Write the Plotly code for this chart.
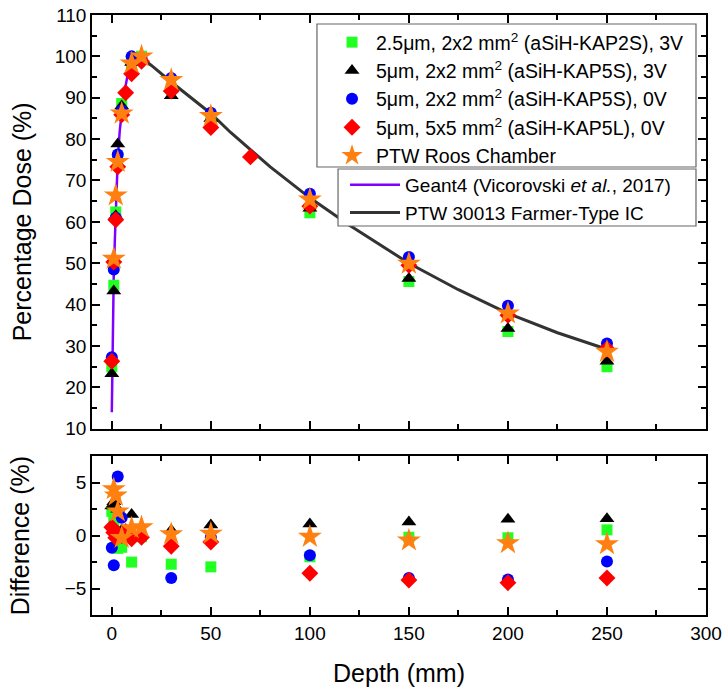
import plotly.graph_objects as go

# ---------------- data ----------------
green_depth = [0, 1, 2, 3, 5, 10, 15, 30, 50, 100, 150, 200, 250]
green_dose = [25.0, 44.7, 62.4, 75.5, 88.6, 98.0, 100.0, 92.3, 85.3, 62.2, 45.6, 33.5, 25.0]
green_diff = [2.3, 1.4, 0.4, -1.2, -1.1, -2.5, -0.1, -2.7, -2.95, -2.0, -0.15, -0.2, 0.55]

black_depth = [0, 1, 2, 3, 5, 10, 15, 30, 50, 100, 150, 200, 250]
black_dose = [23.3, 43.3, 61.5, 78.8, 88.0, 98.5, 99.5, 90.5, 85.0, 63.3, 46.3, 34.2, 26.3]
black_diff = [2.8, 3.2, 0.5, 2.5, 0.5, 2.0, 0.2, 0.5, 1.0, 1.1, 1.3, 1.55, 1.6]

blue_depth = [0, 1, 2, 3, 5, 10, 15, 30, 50, 100, 150, 200, 250]
blue_dose = [27.3, 48.5, 61.0, 76.3, 87.0, 100.0, 99.5, 94.8, 86.4, 66.8, 51.5, 39.7, 30.6]
blue_diff = [-1.15, -2.8, 0.0, 5.6, 1.7, -0.2, 0.0, -4.0, -0.15, -1.85, -4.0, -4.15, -2.45]

red_depth = [0, 1, 2, 3, 5, 7, 10, 15, 30, 50, 70, 100, 150, 200, 250]
red_dose = [26.3, 50.3, 60.5, 73.3, 85.9, 91.2, 95.8, 98.8, 91.6, 82.8, 75.7, 63.8, 49.5, 37.4, 29.3]
red_diff_depth = [0, 1, 2, 3, 5, 7, 10, 15, 30, 50, 100, 150, 200, 250]
red_diff = [0.8, 0.3, -0.2, 0.2, 0.0, 0.4, -0.3, -0.15, -1.0, -0.6, -3.55, -4.2, -4.45, -4.0]

star_depth = [1, 2, 3, 5, 10, 15, 30, 50, 100, 150, 200, 250]
star_dose = [51.1, 66.4, 74.5, 86.2, 98.3, 100.0, 94.3, 85.6, 65.4, 49.9, 37.9, 28.6]
star_diff = [4.4, 3.8, 2.3, -0.2, 0.7, 0.8, 0.15, 0.2, -0.1, -0.45, -0.7, -0.8]

geant_depth = [0, 0.5, 1, 2, 3, 4, 5, 6, 8, 10, 12, 14]
geant_dose = [14.0, 30.0, 48.0, 62.0, 75.0, 82.0, 87.0, 90.5, 95.5, 98.5, 99.8, 100.0]

farmer_depth = [14, 20, 30, 40, 50, 60, 70, 80, 100, 120, 150, 175, 200, 225, 250]
farmer_dose = [100.0, 97.8, 93.8, 90.0, 86.2, 81.6, 77.4, 73.3, 65.8, 59.2, 50.0, 43.6, 37.9, 33.2, 29.2]

names = [
    "2.5\u03bcm, 2x2 mm<sup>2</sup> (aSiH-KAP2S), 3V",
    "5\u03bcm, 2x2 mm<sup>2</sup> (aSiH-KAP5S), 3V",
    "5\u03bcm, 2x2 mm<sup>2</sup> (aSiH-KAP5S), 0V",
    "5\u03bcm, 5x5 mm<sup>2</sup> (aSiH-KAP5L), 0V",
    "PTW Roos Chamber",
]
line_names = ["Geant4 (Vicorovski <i>et al.</i>, 2017)", "PTW 30013 Farmer-Type IC"]

# ---------------- styles ----------------
FONT = "Liberation Sans, Arial, sans-serif"
GREEN, BLACK, BLUE, RED, ORANGE = "#22FF22", "#000000", "#0000FF", "#FF0000", "#FF8010"
PURPLE, DARK = "#8000FF", "#333333"

fig = go.Figure()

fig.add_trace(go.Scatter(x=geant_depth, y=geant_dose, mode="lines", name=line_names[0],
                         line=dict(color=PURPLE, width=2.5), xaxis="x", yaxis="y",
                         legend="legend2"))
fig.add_trace(go.Scatter(x=farmer_depth, y=farmer_dose, mode="lines", name=line_names[1],
                         line=dict(color=DARK, width=3), xaxis="x", yaxis="y",
                         legend="legend2"))

series = [
    (green_depth, green_dose, green_depth, green_diff, GREEN, "square", 11),
    (black_depth, black_dose, black_depth, black_diff, BLACK, "triangle-up", 13),
    (blue_depth, blue_dose, blue_depth, blue_diff, BLUE, "circle", 12),
    (red_depth, red_dose, red_diff_depth, red_diff, RED, "diamond", 13),
    (star_depth, star_dose, star_depth, star_diff, ORANGE, "star", 18),
]
for i, (dx, dy, ddx, ddy, col, sym, sz) in enumerate(series):
    fig.add_trace(go.Scatter(x=dx, y=dy, mode="markers", name=names[i],
                             marker=dict(color=col, symbol=sym, size=sz, line=dict(width=0)),
                             xaxis="x", yaxis="y", legend="legend"))
    fig.add_trace(go.Scatter(x=ddx, y=ddy, mode="markers", name=names[i], showlegend=False,
                             marker=dict(color=col, symbol=sym, size=sz, line=dict(width=0)),
                             xaxis="x2", yaxis="y2"))

axis_common = dict(showline=True, linecolor="black", linewidth=1.5, mirror="allticks",
                   ticks="inside", ticklen=8, tickwidth=1.5, tickcolor="black",
                   showgrid=False, zeroline=False, automargin=False,
                   tickfont=dict(family=FONT, size=19, color="black"))
minor_common = dict(ticks="inside", ticklen=5, tickwidth=1.5, tickcolor="black", tick0=0)

fig.update_layout(
    width=726, height=690,
    margin=dict(l=92, r=20, t=15, b=75, autoexpand=False),
    paper_bgcolor="white", plot_bgcolor="white",
    font=dict(family=FONT, color="black"),
    xaxis=dict(axis_common, domain=[0, 1], range=[-10, 300], dtick=50, tick0=0,
               showticklabels=False, anchor="y", minor=dict(minor_common, dtick=25)),
    yaxis=dict(axis_common, domain=[0.3105, 1.0], range=[10, 110], dtick=10, tick0=0,
               anchor="x", minor=dict(minor_common, dtick=5),
               title=dict(text="Percentage Dose (%)", font=dict(family=FONT, size=25),
                          standoff=16)),
    xaxis2=dict(axis_common, domain=[0, 1], range=[-10, 300], dtick=50, tick0=0,
                anchor="y2", minor=dict(minor_common, dtick=25),
                title=dict(text="Depth (mm)", font=dict(family=FONT, size=25), standoff=22)),
    yaxis2=dict(axis_common, domain=[0, 0.2645], range=[-7.5, 7.5], dtick=5, tick0=0,
                anchor="x2", minor=dict(minor_common, dtick=2.5),
                title=dict(text="Difference (%)", font=dict(family=FONT, size=25),
                           standoff=28)),
    legend=dict(x=0.3844, y=0.9867, xanchor="left", yanchor="top",
                bgcolor="rgba(0,0,0,0)", borderwidth=0,
                font=dict(family=FONT, size=19.5, color="black"),
                itemwidth=38, tracegroupgap=0),
    legend2=dict(x=0.4121, y=0.7483, xanchor="left", yanchor="top",
                 bgcolor="rgba(0,0,0,0)", borderwidth=0,
                 font=dict(family=FONT, size=19, color="black"),
                 itemwidth=50, tracegroupgap=0),
    shapes=[
        dict(type="rect", xref="paper", yref="paper", x0=0.3664, x1=0.9837,
             y0=0.7467, y1=0.985, fillcolor="white", line=dict(color="#666666", width=1.2),
             layer="above"),
        dict(type="rect", xref="paper", yref="paper", x0=0.4007, x1=0.9837,
             y0=0.6483, y1=0.7433, fillcolor="white", line=dict(color="#666666", width=1.2),
             layer="above"),
    ],
)

fig.write_html("out.html", config={"displayModeBar": False},
               post_script="document.body.style.margin='0px';")
